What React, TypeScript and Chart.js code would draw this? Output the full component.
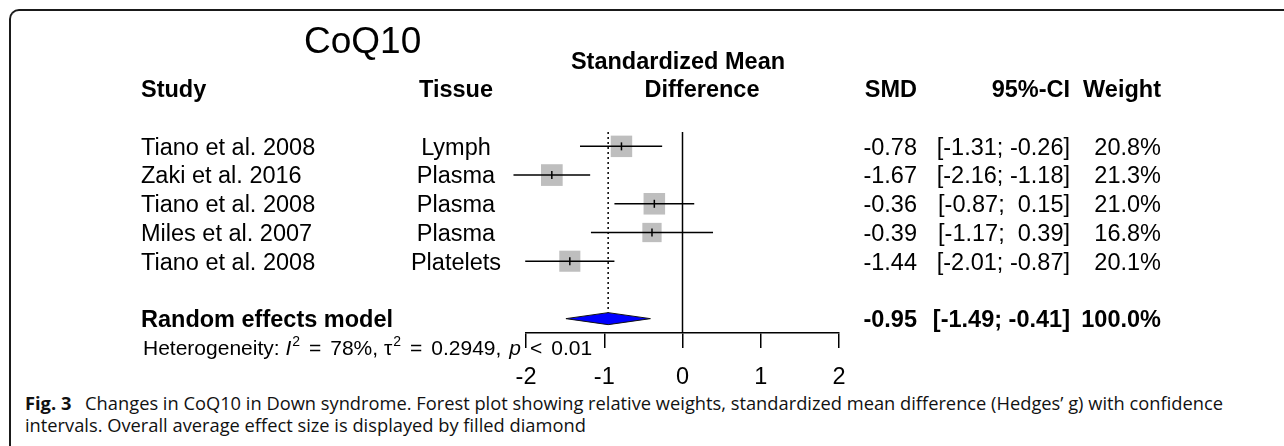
import React, { useEffect, useRef } from "react";
import { Chart, registerables } from "chart.js";

Chart.register(...registerables);

// ---------- data ----------
const chartTitle = "CoQ10";
const studies = ["Tiano et al. 2008", "Zaki et al. 2016", "Tiano et al. 2008", "Miles et al. 2007", "Tiano et al. 2008"];
const tissues = ["Lymph", "Plasma", "Plasma", "Plasma", "Platelets"];
const smd = [-0.78, -1.67, -0.36, -0.39, -1.44];
const ciLower = [-1.31, -2.16, -0.87, -1.17, -2.01];
const ciUpper = [-0.26, -1.18, 0.15, 0.39, -0.87];
const weights = [20.8, 21.3, 21.0, 16.8, 20.1];
const pooledLabel = "Random effects model";
const pooledSmd = -0.95;
const pooledLower = -1.49;
const pooledUpper = -0.41;
const pooledWeight = 100.0;
const xTicks = [-2, -1, 0, 1, 2];
const hetI2 = "78%";
const hetTau2 = "0.2949";
const hetP = "0.01";
const headers = { study: "Study", tissue: "Tissue", effect1: "Standardized Mean", effect2: "Difference", smd: "SMD", ci: "95%-CI", weight: "Weight" };
const captionBold = "Fig. 3";
const captionLine1 = "Changes in CoQ10 in Down syndrome. Forest plot showing relative weights, standardized mean difference (Hedges\u2019 g) with confidence";
const captionLine2 = "intervals. Overall average effect size is displayed by filled diamond";

// ---------- helpers ----------
const FONT = "'Liberation Sans', Arial, Helvetica, sans-serif";
const ROW_FS = 23.5;
const HET_FS = 21;
const fmt = (v: number) => v.toFixed(2).padStart(5, " ");
const ciText = (lo: number, hi: number) => `[${fmt(lo)}; ${fmt(hi)}]`;
const wText = (w: number) => `${w.toFixed(1)}%`;
const rowValue = (i: number) => i + 0.5;
const pooledRow = studies.length + 1.5;
const hetRow = studies.length + 2.5;
const maxSide = 21.7;
const maxW = Math.max(...weights);
const diamondHalf = 6;

function txt(ctx: CanvasRenderingContext2D, s: string, x: number, yc: number, align: CanvasTextAlign, size: number, weight = "normal", style = "normal") {
  ctx.font = `${style} ${weight} ${size}px ${FONT}`;
  ctx.textAlign = align;
  ctx.textBaseline = "alphabetic";
  ctx.fillStyle = "#000";
  ctx.fillText(s, x, yc + 0.358 * size);
}

const forestPlugin = {
  id: "forest",
  beforeDatasetsDraw(chart: any) {
    const { ctx, chartArea, scales } = chart;
    const x = scales.x, y = scales.y;
    ctx.save();
    ctx.strokeStyle = "#000";
    ctx.lineWidth = 1.5;
    const x0 = x.getPixelForValue(0);
    ctx.beginPath();
    ctx.moveTo(x0, chartArea.top);
    ctx.lineTo(x0, chartArea.bottom);
    ctx.stroke();
    const xp = x.getPixelForValue(pooledSmd);
    ctx.setLineDash([2, 3]);
    ctx.beginPath();
    ctx.moveTo(xp, chartArea.top);
    ctx.lineTo(xp, y.getPixelForValue(pooledRow) - diamondHalf);
    ctx.stroke();
    ctx.restore();
  },
  afterDatasetsDraw(chart: any) {
    const { ctx, scales } = chart;
    const x = scales.x, y = scales.y;
    ctx.save();
    ctx.strokeStyle = "#000";
    ctx.lineWidth = 1.5;
    for (let i = 0; i < smd.length; i++) {
      const yy = y.getPixelForValue(rowValue(i));
      ctx.beginPath();
      ctx.moveTo(x.getPixelForValue(ciLower[i]), yy);
      ctx.lineTo(x.getPixelForValue(ciUpper[i]), yy);
      ctx.stroke();
      const xe = x.getPixelForValue(smd[i]);
      ctx.beginPath();
      ctx.moveTo(xe, yy - 4);
      ctx.lineTo(xe, yy + 4);
      ctx.stroke();
    }
    const yp = y.getPixelForValue(pooledRow);
    ctx.beginPath();
    ctx.moveTo(x.getPixelForValue(pooledLower), yp);
    ctx.lineTo(x.getPixelForValue(pooledSmd), yp - diamondHalf);
    ctx.lineTo(x.getPixelForValue(pooledUpper), yp);
    ctx.lineTo(x.getPixelForValue(pooledSmd), yp + diamondHalf);
    ctx.closePath();
    ctx.fillStyle = "#0000FF";
    ctx.fill();
    ctx.lineWidth = 1;
    ctx.strokeStyle = "#111";
    ctx.stroke();
    ctx.restore();
  },
  afterDraw(chart: any) {
    const { ctx, scales } = chart;
    const y = scales.y;
    ctx.save();
    // title and headers
    txt(ctx, chartTitle, 304, y.getPixelForValue(-3.2), "left", 37);
    const h1 = y.getPixelForValue(-1.5);
    const h2 = y.getPixelForValue(-2.5);
    txt(ctx, headers.study, 141, h1, "left", ROW_FS, "bold");
    txt(ctx, headers.tissue, 456, h1, "center", ROW_FS, "bold");
    txt(ctx, headers.effect1, 678, h2, "center", ROW_FS, "bold");
    txt(ctx, headers.effect2, 702, h1, "center", ROW_FS, "bold");
    txt(ctx, headers.smd, 917, h1, "right", ROW_FS, "bold");
    txt(ctx, headers.ci, 1070, h1, "right", ROW_FS, "bold");
    txt(ctx, headers.weight, 1161, h1, "right", ROW_FS, "bold");
    // study rows
    for (let i = 0; i < studies.length; i++) {
      const yy = y.getPixelForValue(rowValue(i));
      txt(ctx, studies[i], 141, yy, "left", ROW_FS);
      txt(ctx, tissues[i], 456, yy, "center", ROW_FS);
      txt(ctx, fmt(smd[i]), 917, yy, "right", ROW_FS);
      txt(ctx, ciText(ciLower[i], ciUpper[i]), 1070, yy, "right", ROW_FS);
      txt(ctx, wText(weights[i]), 1161, yy, "right", ROW_FS);
    }
    // pooled row
    const yp = y.getPixelForValue(pooledRow);
    txt(ctx, pooledLabel, 141, yp, "left", ROW_FS, "bold");
    txt(ctx, fmt(pooledSmd), 917, yp, "right", ROW_FS, "bold");
    txt(ctx, ciText(pooledLower, pooledUpper), 1070, yp, "right", ROW_FS, "bold");
    txt(ctx, wText(pooledWeight), 1161, yp, "right", ROW_FS, "bold");
    // heterogeneity (plotmath-like spacing around relations)
    const yh = y.getPixelForValue(hetRow);
    const parts: [string, "n" | "i" | "s", number][] = [
      ["Heterogeneity:", "n", 0], ["I", "i", 5.8], ["2", "s", 1], ["=", "n", 9], [`${hetI2},`, "n", 9],
      ["\u03C4", "n", 5.8], ["2", "s", 1], ["=", "n", 9], [`${hetTau2},`, "n", 9],
      ["p", "i", 8], ["<", "n", 9], [hetP, "n", 9],
    ];
    let cx = 143;
    for (const [s, k, gap] of parts) {
      cx += gap;
      if (k === "s") {
        ctx.font = `normal normal 14px ${FONT}`;
        ctx.textAlign = "left";
        ctx.textBaseline = "alphabetic";
        ctx.fillStyle = "#000";
        ctx.fillText(s, cx, yh + 0.358 * HET_FS - 9);
        cx += ctx.measureText(s).width;
      } else {
        txt(ctx, s, cx, yh, "left", HET_FS, "normal", k === "i" ? "italic" : "normal");
        cx += ctx.measureText(s).width;
      }
    }
    ctx.restore();
  },
};

export default function App() {
  const ref = useRef<HTMLCanvasElement | null>(null);
  useEffect(() => {
    if (!ref.current) return;
    const radii = weights.map((w) => (maxSide * Math.sqrt(w / maxW)) / (2 * Math.SQRT1_2));
    const chart = new Chart(ref.current, {
      type: "scatter",
      data: {
        datasets: [
          {
            label: "SMD",
            data: smd.map((v, i) => ({ x: v, y: rowValue(i) })),
            pointStyle: "rect",
            pointRadius: radii,
            pointHoverRadius: radii,
            backgroundColor: "#BEBEBE",
            borderWidth: 0,
          },
        ],
      },
      options: {
        responsive: false,
        animation: false,
        devicePixelRatio: 1,
        events: [],
        layout: { padding: { left: 526, right: 445, top: 132, bottom: 0 } },
        plugins: { legend: { display: false }, tooltip: { enabled: false } },
        scales: {
          x: {
            type: "linear",
            min: -2,
            max: 2,
            afterBuildTicks: (s: any) => {
              s.ticks = xTicks.map((v) => ({ value: v }));
            },
            afterFit: (s: any) => {
              s.height = 57;
            },
            ticks: { color: "#000", font: { family: FONT, size: ROW_FS }, padding: 15, autoSkip: false, maxRotation: 0 },
            grid: { drawOnChartArea: false, drawTicks: true, tickLength: 15, color: "#000", lineWidth: 1.5 },
            border: { display: true, color: "#000", width: 1.5 },
          },
          y: { type: "linear", min: 0, max: 7, reverse: true, display: false },
        },
      },
      plugins: [forestPlugin],
    } as any);
    return () => chart.destroy();
  }, []);

  return (
    <div style={{ position: "absolute", left: 0, top: 0, width: 1284, height: 446, overflow: "hidden", background: "#fff" }}>
      <div
        style={{
          position: "absolute",
          left: 9,
          top: 9,
          width: 1300,
          height: 460,
          borderTop: "2px solid #1a1a1a",
          borderLeft: "2px solid #1a1a1a",
          borderTopLeftRadius: 10,
        }}
      />
      <canvas ref={ref} width={1284} height={390} style={{ position: "absolute", left: 0, top: 0, width: 1284, height: 390 }} />
      <div
        style={{
          position: "absolute",
          left: 25,
          top: 392,
          fontFamily: "'Open Sans', sans-serif",
          fontSize: 18.3,
          lineHeight: "21.5px",
          color: "#111",
          whiteSpace: "nowrap",
        }}
      >
        <div>
          <b style={{ marginRight: 9 }}>{captionBold}</b> {captionLine1}
        </div>
        <div>{captionLine2}</div>
      </div>
    </div>
  );
}
